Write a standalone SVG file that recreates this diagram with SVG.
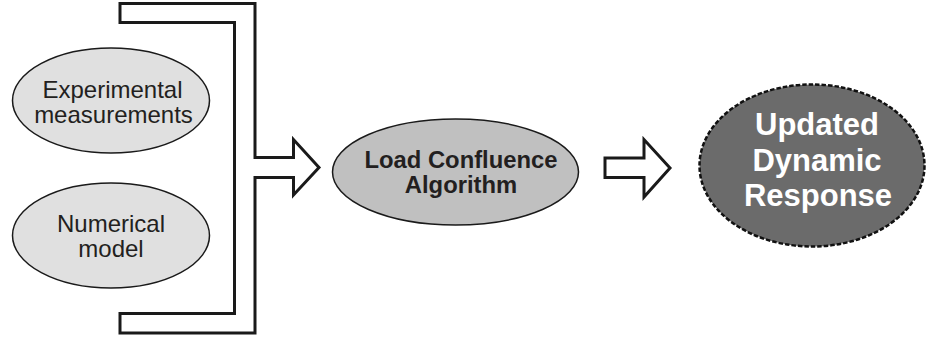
<svg xmlns="http://www.w3.org/2000/svg" width="927" height="339" viewBox="0 0 927 339">
<style>
.ln{fill:none;stroke:#1a1a1a;stroke-width:3;stroke-linejoin:miter}
.arr{fill:#fff;stroke:#1a1a1a;stroke-width:3;stroke-linejoin:miter}
.in{fill:#e0e0e0;stroke:#1a1a1a;stroke-width:1.5}
.t{font-family:"Liberation Sans",Arial,sans-serif;font-size:24px;fill:#231f20;text-anchor:middle}
.tb{font-family:"Liberation Sans",Arial,sans-serif;font-size:23.8px;font-weight:bold;fill:#231f20;text-anchor:middle}
.tw{font-family:"Liberation Sans",Arial,sans-serif;font-size:31px;font-weight:bold;fill:#fff;text-anchor:middle}
</style>
<rect width="927" height="339" fill="#fff"/>
<g id="connectors">
<path class="arr" d="M120,3.5 H255 V157.5 H293.5 V139.5 L319,167.5 L293.5,195 V177.5 H255 V333 H120 V313.5 H234.5 V22.5 H120 Z"/>
<path class="arr" d="M605,158 H644 V139.5 L670,168 L644,197 V177.5 H605 Z"/>
</g>
<g id="experimental">
<ellipse class="in" cx="111" cy="100.5" rx="98.5" ry="52.5"/>
<text class="t" x="112.5" y="98">Experimental</text>
<text class="t" x="113.5" y="123">measurements</text>
</g>
<g id="numerical">
<ellipse class="in" cx="111" cy="235.5" rx="98.5" ry="52.5"/>
<text class="t" x="111" y="232">Numerical</text>
<text class="t" x="111" y="257">model</text>
</g>
<g id="algorithm">
<ellipse cx="455.5" cy="172" rx="123" ry="53" fill="#c0c0c0" stroke="#1a1a1a" stroke-width="1.5"/>
<text class="tb" x="461" y="168">Load Confluence</text>
<text class="tb" x="461" y="193">Algorithm</text>
</g>
<g id="response">
<ellipse cx="812" cy="165.5" rx="112.5" ry="81" fill="#6b6b6b" stroke="#111" stroke-width="2.5" stroke-dasharray="4.5,2"/>
<text class="tw" x="817" y="135">Updated</text>
<text class="tw" x="817" y="170.5">Dynamic</text>
<text class="tw" x="818" y="206">Response</text>
</g>
</svg>
